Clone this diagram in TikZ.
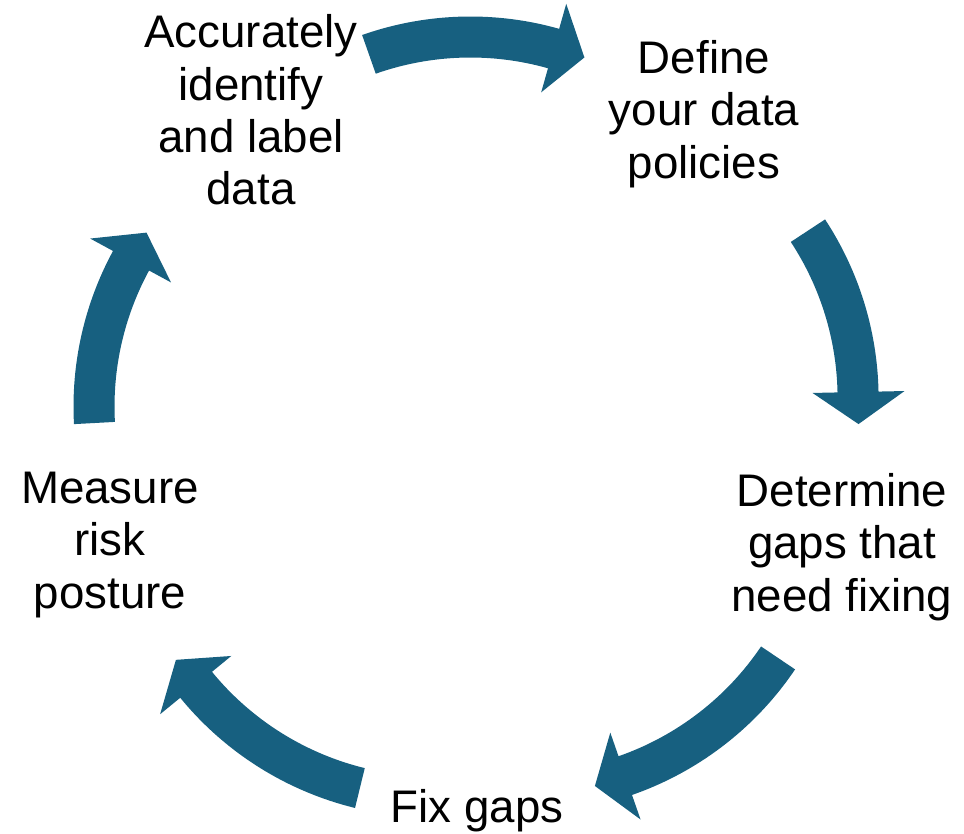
\documentclass[tikz,border=0pt]{standalone}
\usepackage{fontspec}
\setmainfont{Liberation Sans}
\usetikzlibrary{calc}

\definecolor{cycleblue}{RGB}{23,96,128}

\tikzset{
  stage/.style       = {align=center, inner sep=0pt, font=\fontsize{26}{29.8}\selectfont},
  cycle arrow/.style = {fill=cycleblue}
}

% curved block arrow: centre, tail angle, head angle
\newcommand{\cyclearrow}[3]{%
  \fill[cycle arrow] ($(#1)+(#2:285)$) arc[start angle=#2, end angle=#3, radius=285]
    -- ($(#1)+(#3:260)$) -- ($(#1)+(#3-6:307)$) -- ($(#1)+(#3:352)$)
    -- ($(#1)+(#3:326)$) arc[start angle=#3, end angle=#2, radius=326] -- cycle;
}

\begin{document}
\begin{tikzpicture}[x=0.02cm, y=0.02cm]
\useasboundingbox (0,0) rectangle (964,833);

% the five stages, clockwise from the top left
\node[stage] (s1) at (251,723)   {Accurately\\identify\\and label\\data};
\node[stage] (s2) at (704,719)   {Define\\your data\\policies};
\node[stage] (s3) at (842,286)   {Determine\\gaps that\\need fixing};
\node[stage] (s4) at (477,22.5)  {Fix gaps};
\node[stage] (s5) at (110,288)   {Measure\\risk\\posture};

% centres of the curved arrows between the stages
\coordinate (c1) at (470.4,490.5);
\coordinate (c2) at (552.6,434.6);
\coordinate (c3) at (524.8,345.9);
\coordinate (c4) at (432.5,341.7);
\coordinate (c5) at (399.5,426.5);

\foreach \c/\atail/\ahead in {c1/109.4/74.2, c2/33.3/1.2, c3/-34.0/-70.8,
                              c4/-103.75/-140.7, c5/183.1/151.5}
  \cyclearrow{\c}{\atail}{\ahead};
\end{tikzpicture}
\end{document}
